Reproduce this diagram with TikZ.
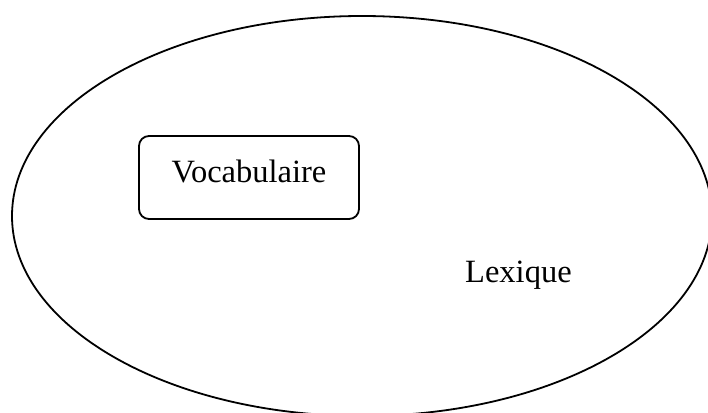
\documentclass[tikz,border=0pt]{standalone}
\usepackage{fontspec}
\setmainfont{Liberation Serif}
\usetikzlibrary{shapes.geometric, positioning}
\tikzset{
	every node/.style = {font = \fontsize{32.5}{39}\selectfont},
	lex/.style = {ellipse, draw = black, line width = 1.8pt, minimum width = 700pt, minimum height = 400pt, inner sep = 0pt},
	voc/.style = {rectangle, rounded corners = 10pt, draw = black, line width = 1.8pt, minimum width = 220pt, text height = 23pt, text depth = 14pt, inner ysep = 23pt, anchor = base},
	lextext/.style = {anchor = base west, inner sep = 0pt}
}
\begin{document}
\begin{tikzpicture}[x = 1pt, y = -1pt]
	\useasboundingbox (0,0) rectangle (708,412);
	\clip (0,0) rectangle (708,412);
	% outer set
	\node (lexique) [lex] at (362,216) {};
	% inner set
	\node (vocab) [voc] at (249,182) {Vocabulaire};
	% label of the outer set
	\node (lexlabel) [lextext] at (465,282) {Lexique};
\end{tikzpicture}
\end{document}
